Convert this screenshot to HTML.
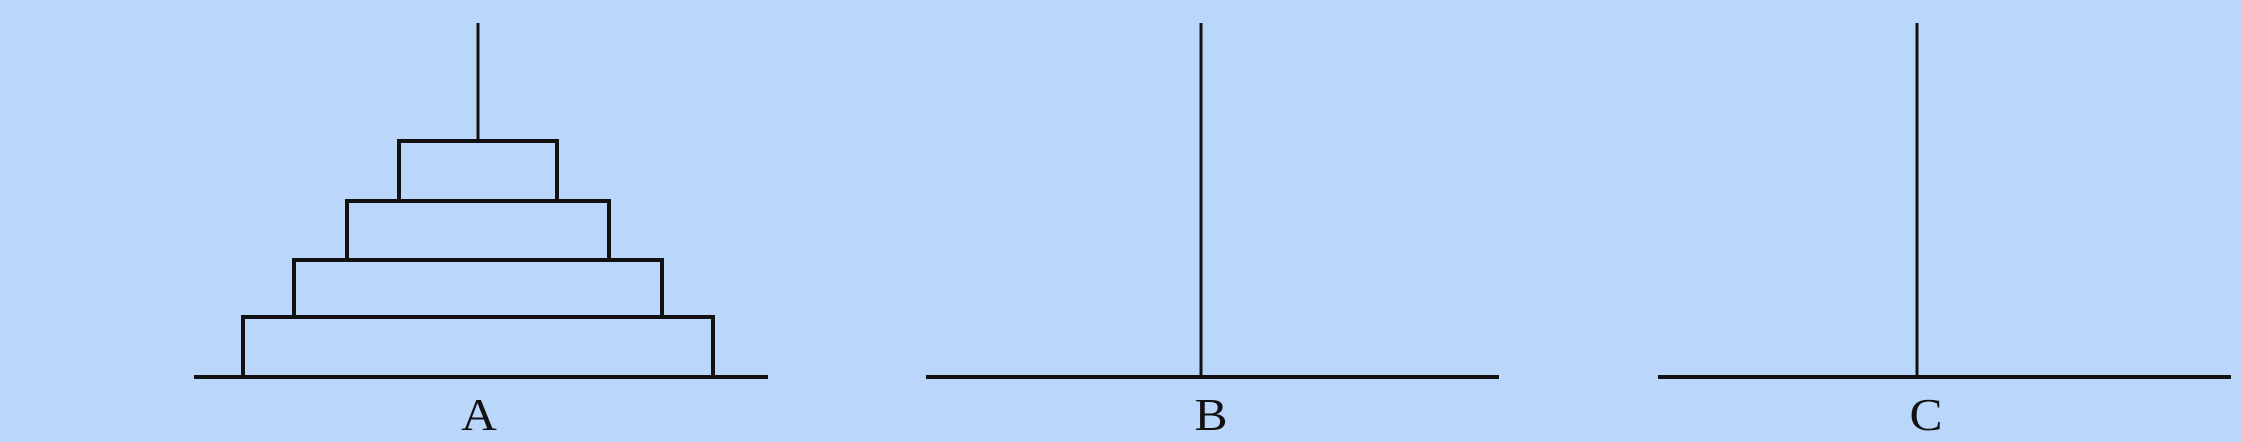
<!DOCTYPE html>
<html><head><meta charset="utf-8"><style>
html,body{margin:0;padding:0;background:#BAD6FA;}
svg{display:block;}
</style></head><body>
<svg width="2242" height="442" viewBox="0 0 2242 442" id="chart">
<rect x="0" y="0" width="2242" height="442" fill="#BAD6FA"/>
</svg>
<script>
const pegLabels = ["A","B","C"];
const pegCenters = [478, 1201, 1917];
const labelCenters = [479, 1211, 1926];
const baseLefts = [194, 926, 1658];
const baseRights = [768, 1499, 2231];
const diskHalfWidths = [79, 131, 184, 235];
const diskTops = [141, 201, 260, 317];
const baseY = 377, poleTop = 23;
const ns = "http://www.w3.org/2000/svg";
const svg = document.getElementById('chart');
function mk(tag, attrs){const e=document.createElementNS(ns,tag);for(const k in attrs)e.setAttribute(k,attrs[k]);svg.appendChild(e);return e;}
pegLabels.forEach((lab,i)=>{
  const cx = pegCenters[i];
  const poleBottom = i===0 ? diskTops[0] : baseY;
  const pole = mk('line',{x1:cx,y1:poleTop,x2:cx,y2:poleBottom,stroke:'#111',"stroke-width":3});
  
  
  const base = mk('line',{x1:baseLefts[i],y1:baseY,x2:baseRights[i],y2:baseY,stroke:'#111',"stroke-width":4});
  
  
  const t = mk('text',{x:0,y:0,"font-family":"Liberation Serif, serif","font-size":45,"text-anchor":"middle",fill:'#111',transform:`translate(${labelCenters[i]},430) scale(1.1,1)`});
  t.textContent = lab;
  
  
});
diskHalfWidths.forEach((hw,j)=>{
  const cx = pegCenters[0];
  const top = diskTops[j];
  const bottom = j+1<diskTops.length ? diskTops[j+1] : baseY;
  const p = mk('path',{d:`M${cx-hw},${bottom} L${cx-hw},${top} L${cx+hw},${top} L${cx+hw},${bottom}`,fill:'none',stroke:'#111',"stroke-width":4});
  
  
});
</script>
</body></html>
